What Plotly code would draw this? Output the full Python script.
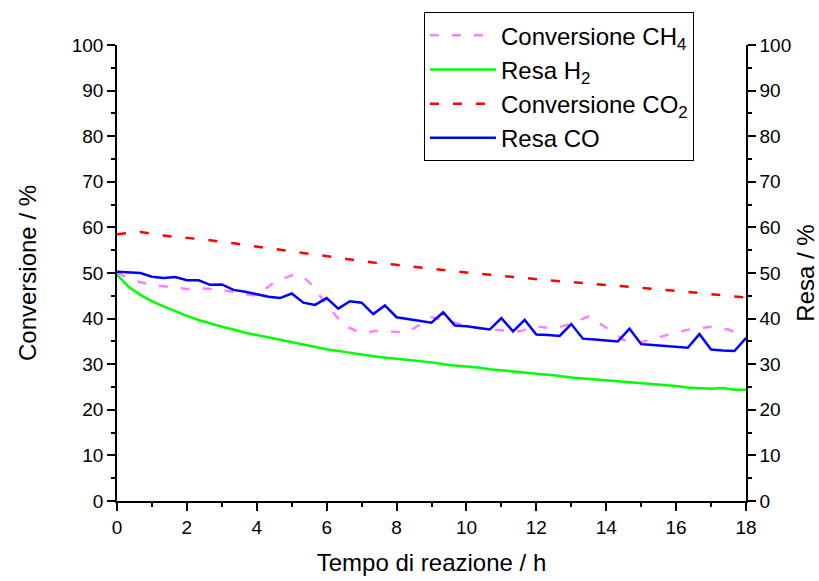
import plotly.graph_objects as go

# Resa CO (yield), sampled every 20 minutes
t_co = [i / 3 for i in range(55)]
resa_co = [50.3, 50.2, 50.0, 49.2, 48.9, 49.1, 48.4, 48.4, 47.4, 47.5,
           46.3, 45.9, 45.4, 44.8, 44.5, 45.5, 43.5, 43.0, 44.5, 42.2,
           43.8, 43.5, 41.0, 42.9, 40.3, 39.9, 39.5, 39.1, 41.4, 38.5,
           38.3, 38.0, 37.6, 40.1, 37.2, 39.7, 36.5, 36.4, 36.2, 38.8,
           35.6, 35.4, 35.2, 35.0, 37.8, 34.4, 34.2, 34.0, 33.8, 33.6,
           36.6, 33.2, 33.0, 32.9, 35.7]

# Conversione CH4
t_ch4 = [0, 0.5, 1.0, 1.5, 2.0, 2.5, 3.0, 3.5, 4.0, 4.5, 5.0, 5.3, 5.6, 6.0,
         6.5, 7.0, 7.5, 8.0, 8.3, 8.7, 9.0, 9.5, 10.0, 10.5, 11.0, 11.5,
         12.0, 12.5, 13.0, 13.5, 14.0, 14.5, 15.0, 15.5, 16.0, 16.5, 17.0,
         17.5, 18.0]
conv_ch4 = [50.0, 48.3, 47.4, 47.0, 46.5, 46.6, 46.3, 45.6, 45.0, 48.0, 49.5,
            49.4, 47.2, 43.0, 38.5, 36.8, 37.4, 37.1, 37.0, 38.8, 40.3, 39.5,
            38.3, 37.7, 37.5, 37.2, 38.3, 37.8, 38.9, 40.5, 38.0, 35.3, 34.8,
            35.9, 37.0, 37.8, 38.2, 37.6, 36.0]

# Resa H2
t_h2 = [0, 0.33, 0.67, 1.0, 1.33, 1.67, 2.0, 2.33, 2.67, 3.0, 3.33, 3.67,
        4.0, 4.5, 5.0, 5.5, 6.0, 6.5, 7.0, 7.5, 8.0, 8.5, 9.0, 9.5, 10.0,
        10.33, 10.67, 11.0, 11.5, 12.0, 12.5, 13.0, 13.5, 14.0, 14.5, 15.0,
        15.5, 16.0, 16.33, 16.67, 17.0, 17.33, 17.67, 18.0]
resa_h2 = [49.6, 47.0, 45.2, 43.8, 42.7, 41.6, 40.6, 39.7, 38.9, 38.2, 37.6,
           36.9, 36.4, 35.6, 34.8, 34.0, 33.3, 32.7, 32.1, 31.6, 31.2, 30.8,
           30.4, 29.8, 29.5, 29.3, 28.9, 28.6, 28.3, 27.9, 27.6, 27.1, 26.8,
           26.5, 26.2, 25.9, 25.5, 25.2, 24.9, 24.7, 24.6, 24.8, 24.4, 24.4]

# Conversione CO2
t_co2 = [0, 0.67, 1.33, 2.0, 2.67, 3.33, 4.0, 4.67, 5.33, 6.0, 6.67, 7.33,
         8.0, 8.67, 9.33, 10.0, 10.67, 11.33, 12.0, 12.67, 13.33, 14.0,
         14.67, 15.33, 16.0, 16.67, 17.33, 18.0]
conv_co2 = [58.5, 59.0, 58.2, 57.7, 57.2, 56.5, 55.8, 55.1, 54.4, 53.7, 53.0,
            52.3, 51.8, 51.2, 50.6, 50.1, 49.6, 49.1, 48.6, 48.2, 47.8, 47.4,
            46.9, 46.5, 46.1, 45.6, 45.1, 44.6]

x_ticks = [0, 2, 4, 6, 8, 10, 12, 14, 16, 18]
y_ticks = [0, 10, 20, 30, 40, 50, 60, 70, 80, 90, 100]

TICK_FONT = dict(family="Liberation Sans, Arial", size=19, color="black")
TITLE_FONT = dict(family="Liberation Sans, Arial", size=24, color="black")

fig = go.Figure()
fig.add_trace(go.Scatter(x=t_ch4, y=conv_ch4, mode="lines", name="Conversione CH<sub>4</sub>",
                         legendgroup="a",
                         line=dict(color="#FF80FF", width=2.5, dash="9px,13px"), yaxis="y"))
fig.add_trace(go.Scatter(x=t_h2, y=resa_h2, mode="lines", name="Resa H<sub>2</sub>",
                         legendgroup="b",
                         line=dict(color="#00FF00", width=2.5), yaxis="y2"))
fig.add_trace(go.Scatter(x=t_co2, y=conv_co2, mode="lines", name="Conversione CO<sub>2</sub>",
                         legendgroup="c",
                         line=dict(color="#FF0000", width=2.5, dash="9px,14px"), yaxis="y"))
fig.add_trace(go.Scatter(x=t_co, y=resa_co, mode="lines", name="Resa CO",
                         legendgroup="d",
                         line=dict(color="#0000FF", width=2.5), yaxis="y2"))

axis_common = dict(
    showgrid=False, zeroline=False, showline=True, linecolor="black", linewidth=1.5,
    ticks="outside", ticklen=8, tickwidth=1.5, tickcolor="black",
    tickfont=TICK_FONT, automargin=False,
)
minor_y = dict(dtick=5, ticks="outside", ticklen=4, tickwidth=1.5, tickcolor="black")

fig.update_layout(
    width=819, height=581,
    margin=dict(l=117, r=73, t=40, b=80),
    paper_bgcolor="white", plot_bgcolor="white",
    xaxis=dict(range=[0, 18], tickvals=x_ticks, ticktext=[str(v) for v in x_ticks],
               minor=dict(dtick=1, ticks="outside", ticklen=4, tickwidth=1.5, tickcolor="black"),
               title=dict(text="Tempo di reazione / h", font=TITLE_FONT, standoff=18),
               **axis_common),
    yaxis=dict(range=[0, 100], tickvals=y_ticks, ticktext=[str(v) for v in y_ticks],
               minor=minor_y,
               title=dict(text="Conversione / %", font=TITLE_FONT, standoff=28),
               **axis_common),
    yaxis2=dict(range=[0, 100], tickvals=y_ticks, ticktext=[str(v) for v in y_ticks],
                overlaying="y", side="right", minor=minor_y,
                title=dict(text="Resa / %", font=TITLE_FONT, standoff=34),
                **axis_common),
    legend=dict(x=0.488, y=1.072, xanchor="left", yanchor="top",
                bgcolor="white", bordercolor="black", borderwidth=1,
                font=dict(family="Liberation Sans, Arial", size=24, color="black"),
                itemwidth=66, tracegroupgap=0),
    showlegend=True,
)

fig.write_html("out.html")
